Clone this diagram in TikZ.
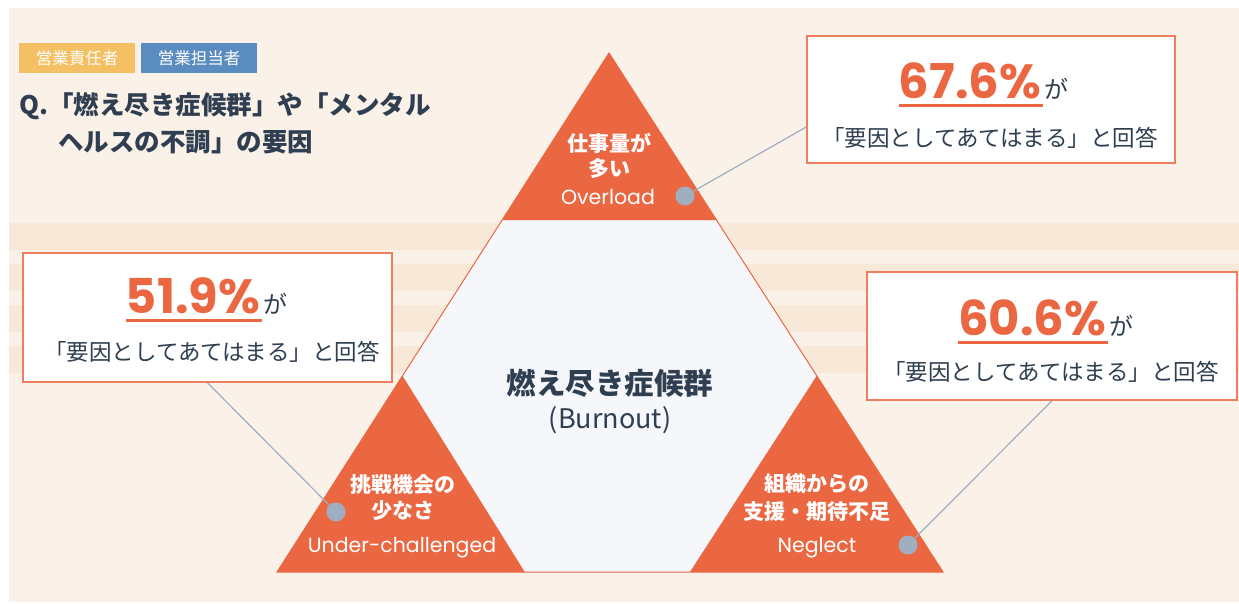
\documentclass[tikz,border=0pt]{standalone}
\usepackage{fontspec}
\setmainfont{Noto Sans CJK JP}
\newfontfamily\jp{Noto Sans CJK JP}
\newfontfamily\pop{Poppins}
\usetikzlibrary{calc}
\definecolor{panel}{HTML}{FAF1E8}
\definecolor{stripe}{HTML}{F8E8D8}
\definecolor{org}{HTML}{EB6742}
\definecolor{boxline}{HTML}{EF7E5F}
\definecolor{hexfill}{HTML}{F5F7FB}
\definecolor{dotc}{HTML}{A0AFC0}
\definecolor{ink}{HTML}{2F3E50}
\definecolor{tagy}{HTML}{F4C063}
\definecolor{tagb}{HTML}{5A8CC0}
\tikzset{
  tag/.style={fill=#1, minimum width=116pt, minimum height=30pt, text=white, font=\jp\fontsize{16.5}{16.5}\selectfont},
  tri/.style={fill=org},
  tritext/.style={text=white, font=\jp\bfseries\fontsize{21}{21}\selectfont},
  trien/.style={text=white, font=\pop\fontsize{20.5}{20.5}\selectfont},
  answerbox/.style={draw=boxline, line width=1.5pt, fill=white, minimum width=#1},
  bignum/.style={text=org, font=\pop\bfseries\fontsize{48}{48}\selectfont, anchor=base},
  ga/.style={text=ink, font=\jp\fontsize{24}{24}\selectfont, anchor=base west},
  ansline/.style={text=ink, font=\jp\fontsize{22.5}{22.5}\selectfont},
  uline/.style={org, line width=3.5pt},
  dot/.style={circle, fill=dotc, minimum size=19pt},
  conn/.style={dotc, line width=1.2pt},
  title/.style={text=ink, font=\jp\bfseries\fontsize{25.5}{25.5}\selectfont, anchor=base west}
}
\begin{document}
\begin{tikzpicture}[x=1pt,y=-1pt, every node/.style={inner sep=0pt}]
\useasboundingbox (0,0) rectangle (1239,603);
\fill[white] (0,0) rectangle (1239,603);
\fill[panel] (9,8) rectangle (1239,602);
\foreach \y in {223,264,305,346} \fill[stripe] (9,\y) rectangle (1239,\y+27);

% tags and title
\node[tag=tagy] (tag1) at (77,58) {営業責任者};
\node[tag=tagb] (tag2) at (199,58) {営業担当者};
\node[title] (q1) at (19,114) {Q.「燃え尽き症候群」や「メンタル};
\node[title] (q2) at (58,151) {ヘルスの不調」の要因};

% triangle
\coordinate (A) at (609,53);
\coordinate (L) at (277,572);
\coordinate (R) at (943,572);
\filldraw[fill=hexfill, draw=org, line width=1pt] (A) -- (L) -- (R) -- cycle;
\fill[tri] (A) -- ($(A)!0.322!(L)$) -- ($(A)!0.322!(R)$) -- cycle;
\fill[tri] (L) -- ($(L)!0.378!(A)$) -- ($(L)!0.372!(R)$) -- cycle;
\fill[tri] (R) -- ($(R)!0.378!(A)$) -- ($(R)!0.38!(L)$) -- cycle;

% triangle texts
\node[tritext] (t1a) at (609,143) {仕事量が};
\node[tritext] (t1b) at (609,168) {多い};
\node[trien] (t1c) at (608,197) {Overload};
\node[tritext] (t2a) at (403,485) {挑戦機会の};
\node[tritext] (t2b) at (403,511) {少なさ};
\node[trien] (t2c) at (402,548) {Under-challenged};
\node[tritext] (t3a) at (817,484) {組織からの};
\node[tritext] (t3b) at (817,512) {支援・期待不足};
\node[trien] (t3c) at (817,548) {Neglect};

% center
\node[text=ink, font=\jp\bfseries\fontsize{29.5}{29.5}\selectfont] (c1) at (610,383) {燃え尽き症候群};
\node[text=ink, font=\jp\fontsize{27}{27}\selectfont] (c2) at (610,420) {(Burnout)};

% dots
\node[dot] (dT) at (685,196) {};
\node[dot] (dL) at (336,512) {};
\node[dot] (dR) at (908,545) {};

% boxes
\node[answerbox=368pt, minimum height=127pt] (b1) at (991,99.5) {};
\node[answerbox=369pt, minimum height=129pt] (b2) at (207.5,317.5) {};
\node[answerbox=370pt, minimum height=128pt] (b3) at (1052,336) {};

% connectors
\draw[conn] (dT) -- ([yshift=-27.5pt]b1.west);
\draw[conn] (b2.south) -- (dL);
\draw[conn] (b3.south) -- (dR);

% box texts
\node[bignum] (n1) at (970,98) {67.6\%};
\node[ga] (g1) at ([xshift=3pt]n1.base east) {が};
\draw[uline] ([yshift=-7.5pt]n1.base west) -- ([yshift=-7.5pt,xshift=2pt]n1.base east);
\node[ansline] (a1) at (990,138) {「要因としてあてはまる」と回答};

\node[bignum] (n2) at (193,313) {51.9\%};
\node[ga] (g2) at ([xshift=3pt]n2.base east) {が};
\draw[uline] ([yshift=-7.5pt]n2.base west) -- ([yshift=-7.5pt,xshift=2pt]n2.base east);
\node[ansline] (a2) at (212,352) {「要因としてあてはまる」と回答};

\node[bignum] (n3) at (1032,335) {60.6\%};
\node[ga] (g3) at ([xshift=3pt]n3.base east) {が};
\draw[uline] ([yshift=-7.5pt]n3.base west) -- ([yshift=-7.5pt,xshift=2pt]n3.base east);
\node[ansline] (a3) at (1051,372) {「要因としてあてはまる」と回答};
\end{tikzpicture}
\end{document}
